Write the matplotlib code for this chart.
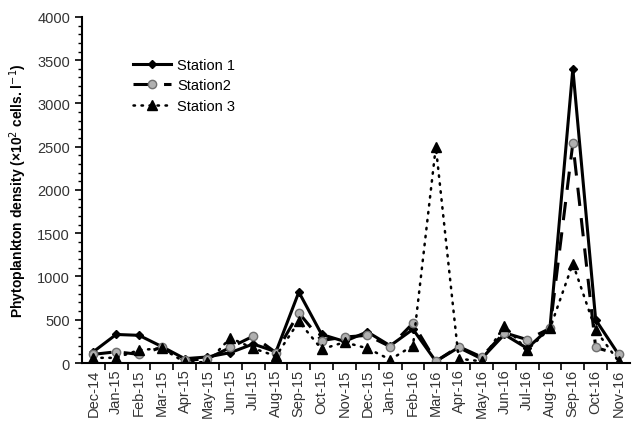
import matplotlib.pyplot as plt
from matplotlib.ticker import MultipleLocator

plt.rcParams['font.family'] = ['Liberation Sans', 'DejaVu Sans']

# meses de muestreo
months = ['Dec-14', 'Jan-15', 'Feb-15', 'Mar-15', 'Apr-15', 'May-15', 'Jun-15',
          'Jul-15', 'Aug-15', 'Sep-15', 'Oct-15', 'Nov-15', 'Dec-15', 'Jan-16',
          'Feb-16', 'Mar-16', 'Apr-16', 'May-16', 'Jun-16', 'Jul-16', 'Aug-16',
          'Sep-16', 'Oct-16', 'Nov-16']

station1 = [130, 330, 320, 190, 50, 70, 120, 220, 130, 820, 330, 250,
            360, 200, 390, 20, 180, 50, 330, 170, 410, 3400, 500, 100]
station2 = [100, 130, 100, 180, 30, 50, 180, 310, 120, 580, 260, 300,
            320, 190, 460, 20, 190, 70, 350, 270, 400, 2540, 180, 100]
station3 = [60, 60, 150, 170, 10, 10, 290, 170, 80, 480, 160, 240,
            170, 40, 200, 2500, 50, 20, 430, 150, 400, 1150, 380, 20]

x = list(range(len(months)))

fig = plt.figure(figsize=(6.35, 4.27), dpi=100)
ax = fig.add_axes([0.129, 0.1475, 0.863, 0.8105])

ax.plot(x, station1, '-', color='black', lw=2.2, marker='D', ms=4.5,
        mfc='black', mec='black', label='Station 1')
ax.plot(x, station2, color='black', lw=2.2, dashes=(6, 4), marker='o', ms=6,
        mfc='#b0b0b0', mec='#707070', label='Station2')
ax.plot(x, station3, color='black', lw=1.8, dashes=(0.6, 2.6), dash_capstyle='round',
        marker='^', ms=7, mfc='black', mec='black', label='Station 3')

ax.set_xlim(-0.5, len(months) - 0.5)
ax.set_ylim(0, 4000)
ax.yaxis.set_major_locator(MultipleLocator(500))
ax.yaxis.set_minor_locator(MultipleLocator(100))
ax.set_xticks(x)
ax.set_xticklabels(months, rotation=90, fontsize=10.5, color='#333333')
ax.set_xticks([i + 0.5 for i in x[:-1]], minor=True)
ax.tick_params(axis='x', which='major', length=0, pad=4)
ax.tick_params(axis='x', which='minor', length=5, width=1.2, direction='out')
ax.tick_params(axis='y', which='major', length=5, width=1.2, labelsize=10.5,
               labelcolor='#333333')
ax.tick_params(axis='y', which='minor', length=3, width=1.0)

for s in ['top', 'right']:
    ax.spines[s].set_visible(False)
for s in ['left', 'bottom']:
    ax.spines[s].set_linewidth(1.5)

ax.set_ylabel('Phytoplankton density (×10$^2$ cells. l$^{-1}$)', fontsize=10,
              fontweight='bold', labelpad=6)

ax.legend(loc='upper left', bbox_to_anchor=(0.07, 0.92), frameon=False,
          fontsize=10.5, handlelength=2.6, labelspacing=0.45, handletextpad=0.4)

fig.savefig('out.png', dpi=100)
